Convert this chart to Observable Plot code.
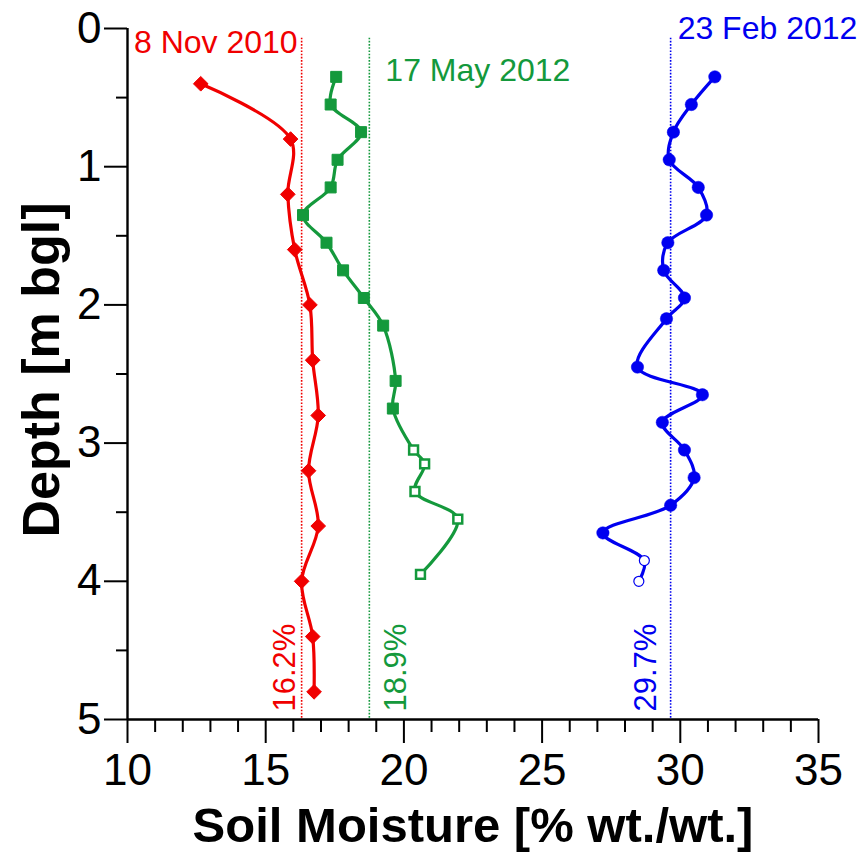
<!DOCTYPE html>
<html>
<head>
<meta charset="utf-8">
<script src="https://cdn.jsdelivr.net/npm/d3@7"></script>
<script src="https://cdn.jsdelivr.net/npm/@observablehq/plot@0.6"></script>
<style>
  html, body { margin: 0; padding: 0; background: #fff; }
  #chart svg { display: block; }
</style>
</head>
<body>
<div id="chart"></div>
<script>
// ---- Data ----
const seriesNames = ["8 Nov 2010", "17 May 2012", "23 Feb 2012"];
const seriesColors = ["#f00000", "#14993c", "#0000f0"];

const nov2010Depth    = [0.4, 0.8, 1.2, 1.6, 2.0, 2.4, 2.8, 3.2, 3.6, 4.0, 4.4, 4.8];
const nov2010Moisture = [12.65, 15.9, 15.8, 16.05, 16.6, 16.7, 16.9, 16.55, 16.9, 16.3, 16.7, 16.75];

const may2012Depth    = [0.35, 0.55, 0.75, 0.95, 1.15, 1.35, 1.55, 1.75, 1.95, 2.15, 2.55, 2.75, 3.05, 3.15, 3.35, 3.55, 3.95];
const may2012Moisture = [17.55, 17.35, 18.45, 17.6, 17.35, 16.35, 17.2, 17.8, 18.55, 19.25, 19.7, 19.6, 20.35, 20.75, 20.4, 21.95, 20.6];
const may2012Open     = [0, 0, 0, 0, 0, 0, 0, 0, 0, 0, 0, 0, 1, 1, 1, 1, 1];

const feb2012Depth    = [0.35, 0.55, 0.75, 0.95, 1.15, 1.35, 1.55, 1.75, 1.95, 2.1, 2.45, 2.65, 2.85, 3.05, 3.25, 3.45, 3.65, 3.85, 4.0];
const feb2012Moisture = [31.25, 30.4, 29.75, 29.6, 30.65, 30.95, 29.55, 29.4, 30.15, 29.5, 28.45, 30.8, 29.35, 30.15, 30.5, 29.65, 27.2, 28.7, 28.5];
const feb2012Open     = [0, 0, 0, 0, 0, 0, 0, 0, 0, 0, 0, 0, 0, 0, 0, 0, 0, 1, 1];

const meanLinePos   = [16.3, 18.75, 29.65];
const meanLabels    = ["16.2%", "18.9%", "29.7%"];

const xMajorTicks = [10, 15, 20, 25, 30, 35];
const xMinorTicks = [11,12,13,14,16,17,18,19,21,22,23,24,26,27,28,29,31,32,33,34];
const yMajorTicks = [0, 1, 2, 3, 4, 5];
const yMinorTicks = [0.5, 1.5, 2.5, 3.5, 4.5];

const xTitle = "Soil Moisture [% wt./wt.]";
const yTitle = "Depth [m bgl]";

// ---- Build tables ----
const red   = nov2010Depth.map((d, i) => ({depth: d, m: nov2010Moisture[i]}));
const green = may2012Depth.map((d, i) => ({depth: d, m: may2012Moisture[i], open: may2012Open[i]}));
const blue  = feb2012Depth.map((d, i) => ({depth: d, m: feb2012Moisture[i], open: feb2012Open[i]}));
const means = meanLinePos.map((x, i) => ({x, label: meanLabels[i], name: seriesNames[i], color: seriesColors[i]}));

const [cR, cG, cB] = seriesColors;
const tickFont = "'Liberation Sans', Arial, sans-serif";

const chart = Plot.plot({
  width: 863,
  height: 857,
  marginLeft: 127,
  marginRight: 45,
  marginTop: 28,
  marginBottom: 138,
  style: {fontFamily: "'Liberation Sans', Arial, sans-serif", background: "#fff", overflow: "visible"},
  x: {domain: [10, 35]},
  y: {domain: [0, 5], reverse: true},
  marks: [
    // axes
    Plot.axisX({ticks: xMinorTicks, tickSize: 13, tickFormat: () => "", strokeWidth: 2, label: null}),
    Plot.axisX({ticks: xMajorTicks, tickSize: 24, tickPadding: 10, strokeWidth: 2, label: null,
                tickFormat: d3.format("d"), fontSize: 44, fontFamily: tickFont, fill: "#000"}),
    Plot.axisY({ticks: yMinorTicks, tickSize: 11, tickFormat: () => "", strokeWidth: 2, label: null}),
    Plot.axisY({ticks: yMajorTicks, tickSize: 23, tickPadding: 3, strokeWidth: 2, label: null,
                tickFormat: d3.format("d"), fontSize: 44, fontFamily: tickFont, fill: "#000"}),
    Plot.ruleY([5], {x1: 10, x2: 35, strokeWidth: 2.4}),
    Plot.ruleX([10], {y1: 0, y2: 5, strokeWidth: 2.4}),

    // axis titles
    Plot.text([xTitle], {frameAnchor: "bottom", dy: 107, fontSize: 49, fontWeight: "bold", fill: "#000", lineAnchor: "middle", textAnchor: "middle"}),
    Plot.text([yTitle], {frameAnchor: "left", dx: -85, dy: -4, rotate: -90, fontSize: 52, fontWeight: "bold", fill: "#000", lineAnchor: "middle", textAnchor: "middle"}),

    // mean reference lines
    Plot.ruleX(means, {x: "x", y1: 0.07, y2: 5, stroke: "color", strokeWidth: 1.6, strokeDasharray: "1.6,1.6"}),

    // series: 8 Nov 2010
    Plot.line(red, {x: "m", y: "depth", stroke: cR, strokeWidth: 3.2, curve: "catmull-rom"}),
    Plot.dot(red, {x: "m", y: "depth", symbol: "diamond2", r: 6.6, fill: cR, stroke: cR, strokeWidth: 1}),

    // series: 17 May 2012
    Plot.line(green, {x: "m", y: "depth", stroke: cG, strokeWidth: 3.2, curve: "catmull-rom"}),
    Plot.dot(green.filter(d => !d.open), {x: "m", y: "depth", symbol: "square", r: 6.2, fill: cG, stroke: cG, strokeWidth: 1}),
    Plot.dot(green.filter(d => d.open), {x: "m", y: "depth", symbol: "square", r: 5, fill: "#fff", stroke: cG, strokeWidth: 2.5}),

    // series: 23 Feb 2012
    Plot.line(blue, {x: "m", y: "depth", stroke: cB, strokeWidth: 3.2, curve: "catmull-rom"}),
    Plot.dot(blue.filter(d => !d.open), {x: "m", y: "depth", symbol: "circle", r: 6.2, fill: cB, stroke: cB, strokeWidth: 0.5}),
    Plot.dot(blue.filter(d => d.open), {x: "m", y: "depth", symbol: "circle", r: 5, fill: "#fff", stroke: cB, strokeWidth: 1.2}),

    // date labels
    Plot.text([means[0]], {x: "x", y: () => 0, text: "name", fill: "color", fontSize: 32, textAnchor: "end", lineAnchor: "middle", dx: -4, dy: 14}),
    Plot.text([means[1]], {x: "x", y: () => 0, text: "name", fill: "color", fontSize: 32, textAnchor: "start", lineAnchor: "middle", dx: 16, dy: 42}),
    Plot.text([means[2]], {x: "x", y: () => 0, text: "name", fill: "color", fontSize: 32, textAnchor: "start", lineAnchor: "middle", dx: 7, dy: 0}),

    // mean labels (rotated)
    Plot.text([means[0]], {x: "x", y: () => 5, text: "label", fill: "color", fontSize: 31, rotate: -90, textAnchor: "start", lineAnchor: "middle", dx: -17, dy: -8}),
    Plot.text([means[1]], {x: "x", y: () => 5, text: "label", fill: "color", fontSize: 31, rotate: -90, textAnchor: "start", lineAnchor: "middle", dx: 27, dy: -8}),
    Plot.text([means[2]], {x: "x", y: () => 5, text: "label", fill: "color", fontSize: 31, rotate: -90, textAnchor: "start", lineAnchor: "middle", dx: -25, dy: -8})
  ]
});

document.getElementById("chart").appendChild(chart);
</script>
</body>
</html>
